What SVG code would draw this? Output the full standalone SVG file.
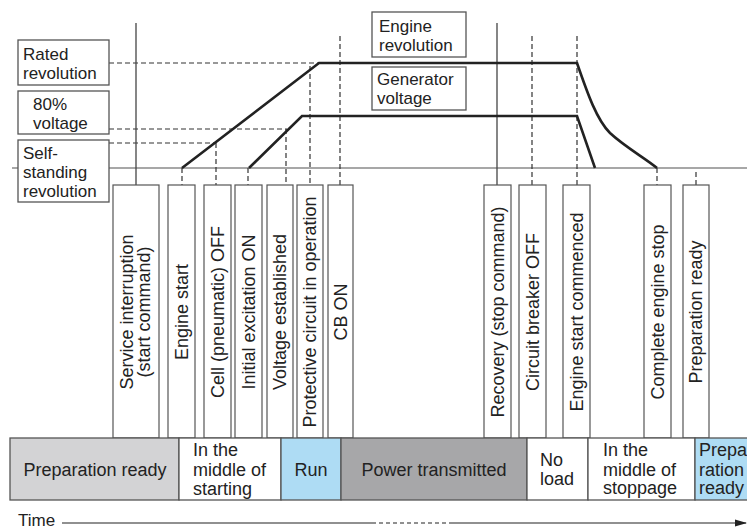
<svg xmlns="http://www.w3.org/2000/svg" width="747" height="530" viewBox="0 0 747 530">
<style>
text{font-family:"Liberation Sans",Arial,sans-serif;font-size:18px;fill:#222}
.lbl{font-size:17px}
.box{fill:#fff;stroke:#555;stroke-width:1.3}
.vbox{fill:#fff;stroke:#555;stroke-width:1.2}
.dash{stroke:#333;stroke-width:1.2;stroke-dasharray:5 3;fill:none}
.solid{stroke:#444;stroke-width:1.3;fill:none}
.curve{stroke:#222;stroke-width:2.6;fill:none;stroke-linejoin:miter}
.base{stroke:#8a8a8a;stroke-width:1.6}
.bar{stroke:#555;stroke-width:1.3}
.mid{text-anchor:middle}
</style>
<defs>
<marker id="arr" markerWidth="12" markerHeight="8" refX="11" refY="4" orient="auto" markerUnits="userSpaceOnUse">
<path d="M0,0.5 L12,4 L0,7.5 Z" fill="#222"/>
</marker>
</defs>

<line class="base" x1="12" y1="168" x2="747" y2="168"/>

<g id="connectors">
<line class="dash" x1="109" y1="63" x2="319" y2="63"/>
<line class="dash" x1="109" y1="129" x2="287" y2="129"/>
<line class="dash" x1="109" y1="143" x2="216" y2="143"/>
<line class="solid" x1="136" y1="23" x2="136" y2="185"/>
<line class="dash" x1="182" y1="168" x2="182" y2="185"/>
<line class="dash" x1="216" y1="143" x2="216" y2="185"/>
<line class="dash" x1="248" y1="168" x2="248" y2="185"/>
<line class="dash" x1="286" y1="129" x2="286" y2="185"/>
<line class="dash" x1="310" y1="66" x2="310" y2="185"/>
<line class="dash" x1="340" y1="36" x2="340" y2="185"/>
<line class="solid" x1="497" y1="23" x2="497" y2="185"/>
<line class="dash" x1="532" y1="36" x2="532" y2="185"/>
<line class="dash" x1="577" y1="36" x2="577" y2="185"/>
<line class="dash" x1="657" y1="168" x2="657" y2="185"/>
<line class="dash" x1="696" y1="172" x2="696" y2="185"/>
<path class="curve" d="M182,168 L319,63 L577,63 C588,95 597,120 610,133 C625,147 645,158 657,168"/>
<path class="curve" d="M249,168 L302,116 L577,116 L595,168"/>
<line x1="62" y1="523" x2="372" y2="523" stroke="#222" stroke-width="1.2"/>
<line x1="372" y1="523" x2="453" y2="523" stroke="#222" stroke-width="1.2" stroke-dasharray="4 3"/>
<line x1="453" y1="523" x2="746" y2="523" stroke="#222" stroke-width="1.2" marker-end="url(#arr)"/>
</g>

<g id="rated">
<rect class="box" x="18" y="40" width="91" height="45"/>
<text class="lbl" x="23" y="60">Rated</text>
<text class="lbl" x="23" y="79">revolution</text>
</g>
<g id="v80">
<rect class="box" x="18" y="91" width="91" height="43"/>
<text class="lbl" x="33" y="110">80%</text>
<text class="lbl" x="33" y="129">voltage</text>
</g>
<g id="selfstanding">
<rect class="box" x="18" y="140" width="91" height="62"/>
<text class="lbl" x="23" y="159">Self-</text>
<text class="lbl" x="23" y="178">standing</text>
<text class="lbl" x="23" y="197">revolution</text>
</g>
<g id="engine">
<rect class="box" x="372" y="12" width="94" height="45"/>
<text class="lbl" x="379" y="32">Engine</text>
<text class="lbl" x="379" y="51">revolution</text>
</g>
<g id="generator">
<rect class="box" x="372" y="67" width="94" height="43"/>
<text class="lbl" x="377" y="85">Generator</text>
<text class="lbl" x="377" y="104">voltage</text>
</g>

<g id="e1"><rect class="vbox" x="113" y="185" width="46" height="253"/>
<text class="mid" transform="translate(133,312) rotate(-90)">Service interruption</text>
<text class="mid" transform="translate(150,312) rotate(-90)">(start command)</text></g>
<g id="e2"><rect class="vbox" x="168" y="185" width="27" height="253"/>
<text class="mid" transform="translate(188,312) rotate(-90)">Engine start</text></g>
<g id="e3"><rect class="vbox" x="204" y="185" width="27" height="253"/>
<text class="mid" transform="translate(224,312) rotate(-90)">Cell (pneumatic) OFF</text></g>
<g id="e4"><rect class="vbox" x="235" y="185" width="27" height="253"/>
<text class="mid" transform="translate(255,312) rotate(-90)">Initial excitation ON</text></g>
<g id="e5"><rect class="vbox" x="267" y="185" width="26" height="253"/>
<text class="mid" transform="translate(286,312) rotate(-90)">Voltage established</text></g>
<g id="e6"><rect class="vbox" x="297" y="185" width="26" height="253"/>
<text class="mid" transform="translate(316,312) rotate(-90)">Protective circuit in operation</text></g>
<g id="e7"><rect class="vbox" x="328" y="185" width="25" height="253"/>
<text class="mid" transform="translate(347,312) rotate(-90)">CB ON</text></g>
<g id="e8"><rect class="vbox" x="484" y="185" width="27" height="253"/>
<text class="mid" transform="translate(504,312) rotate(-90)">Recovery (stop command)</text></g>
<g id="e9"><rect class="vbox" x="519" y="185" width="27" height="253"/>
<text class="mid" transform="translate(539,312) rotate(-90)">Circuit breaker OFF</text></g>
<g id="e10"><rect class="vbox" x="563" y="185" width="27" height="253"/>
<text class="mid" transform="translate(583,312) rotate(-90)">Engine start commenced</text></g>
<g id="e11"><rect class="vbox" x="644" y="185" width="27" height="253"/>
<text class="mid" transform="translate(664,312) rotate(-90)">Complete engine stop</text></g>
<g id="e12"><rect class="vbox" x="683" y="185" width="26" height="253"/>
<text class="mid" transform="translate(702,312) rotate(-90)">Preparation ready</text></g>

<g id="s1"><rect class="bar" x="10" y="438" width="169" height="62" fill="#d3d3d5"/>
<text class="mid" x="95" y="476">Preparation ready</text></g>
<g id="s2"><rect class="bar" x="179" y="438" width="102" height="62" fill="#fff"/>
<text x="193" y="456">In the</text><text x="193" y="475.5">middle of</text><text x="193" y="495">starting</text></g>
<g id="s3"><rect class="bar" x="281" y="438" width="60" height="62" fill="#aedcf4"/>
<text class="mid" x="311" y="476">Run</text></g>
<g id="s4"><rect class="bar" x="341" y="438" width="186" height="62" fill="#a7a7a9"/>
<text class="mid" x="434" y="476">Power transmitted</text></g>
<g id="s5"><rect class="bar" x="527" y="438" width="61" height="62" fill="#fff"/>
<text x="540" y="466">No</text><text x="540" y="485">load</text></g>
<g id="s6"><rect class="bar" x="588" y="438" width="107" height="62" fill="#fff"/>
<text x="603" y="456">In the</text><text x="603" y="475.5">middle of</text><text x="603" y="494">stoppage</text></g>
<g id="s7"><rect class="bar" x="695" y="438" width="70" height="62" fill="#aedcf4"/>
<text x="699" y="456">Prepa</text><text x="699" y="475.5">ration</text><text x="699" y="494">ready</text></g>

<text x="18" y="526" style="font-size:17px">Time</text>
</svg>
